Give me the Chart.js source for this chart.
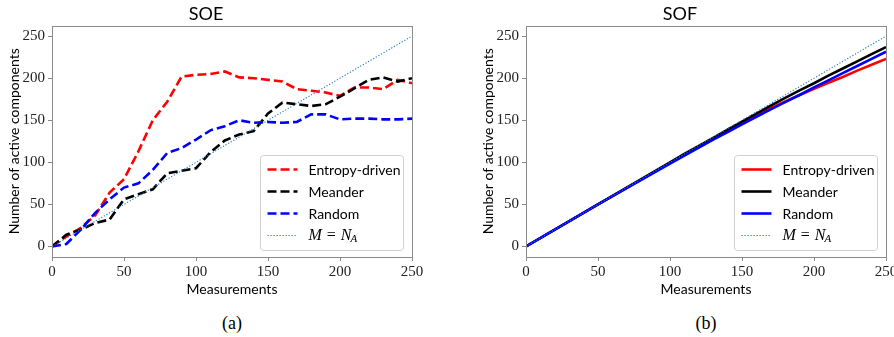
<!DOCTYPE html>
<html>
<head>
<meta charset="utf-8">
<script src="https://cdn.jsdelivr.net/npm/chart.js@4.4.1/dist/chart.umd.min.js"></script>
<style>
  html, body { margin: 0; padding: 0; background: #fff; }
  body { width: 894px; height: 337px; position: relative; overflow: hidden; }
  canvas { position: absolute; top: 0; }
  #soeChart { left: 0; }
  #sofChart { left: 440px; }
  .cap { position: absolute; top: 313px; width: 60px; text-align: center; font: 18px "Liberation Serif", serif; color: #000; }
</style>
</head>
<body>
<canvas id="soeChart" width="440" height="300"></canvas>
<canvas id="sofChart" width="480" height="300"></canvas>
<div class="cap" style="left:202px">(a)</div>
<div class="cap" style="left:676px">(b)</div>

<script>
/* ---- data ---- */
const seriesLabels = ['Entropy-driven', 'Meander', 'Random', 'M = N_A'];
const xTicks = [0, 50, 100, 150, 200, 250];
const yTicks = [0, 50, 100, 150, 200, 250];

// SOE: every 10 measurements
const soeMeasurements = [0, 10, 20, 30, 40, 50, 60, 70, 80, 90, 100, 110, 120, 130, 140, 150, 160, 170, 180, 190, 200, 210, 220, 230, 240, 250];
const soeEntropy = [0, 12, 22, 37, 64, 80, 113, 150, 172, 202, 204, 205, 208, 201, 200, 198, 196, 187, 185, 183, 179, 189, 189, 187, 198, 194];
const soeMeander = [0, 14, 20, 28, 32, 56, 62, 68, 87, 90, 93, 112, 126, 133, 137, 158, 171, 169, 167, 169, 178, 188, 198, 201, 196, 200];
const soeRandom = [0, 3, 20, 40, 56, 70, 75, 91, 111, 117, 127, 138, 143, 150, 147, 148, 147, 148, 157, 157, 151, 152, 152, 151, 151, 152];

// SOF: curves only part from the diagonal after ~100
const sofMeasurements = [0, 50, 100, 110, 120, 130, 140, 150, 160, 170, 180, 190, 200, 210, 220, 230, 240, 250];
const sofEntropy = [0, 50, 99.5, 109, 118.5, 128, 137.5, 147, 156, 164.5, 172.5, 180, 187.5, 194.5, 201.5, 209, 216, 223];
const sofMeander = [0, 50, 100, 110, 119.5, 129, 139, 148.5, 158, 167.5, 176.5, 185.5, 194, 203, 211.5, 220, 228.5, 237];
const sofRandom = [0, 50, 98.5, 108, 117.5, 127, 136, 145, 154, 163, 171.5, 180, 189, 197.5, 206, 214.5, 223, 231.5];

// reference line M = N_A
const refX = [0, 250];
const refY = [0, 250];

const SANS = 'Lato, "DejaVu Sans", sans-serif';
const SERIF = '"Liberation Serif", "DejaVu Serif", serif';
const SPINE = '#8a8a8a';

const toXY = (xs, ys) => xs.map((x, i) => ({ x, y: ys[i] }));

/* ---- spines on all four sides ---- */
const framePlugin = {
  id: 'frame',
  afterDatasetsDraw(chart) {
    const { ctx, chartArea: a } = chart;
    ctx.save();
    ctx.strokeStyle = SPINE;
    ctx.lineWidth = 1;
    ctx.strokeRect(Math.round(a.left) + 0.5, Math.round(a.top) + 0.5, Math.round(a.width), Math.round(a.height));
    ctx.restore();
  },
};

/* ---- matplotlib-style legend box in lower right ---- */
const boxLegend = {
  id: 'boxLegend',
  afterDraw(chart) {
    const { ctx, chartArea: a } = chart;
    const w = 143, h = 95;
    const x0 = Math.round(a.right - 9 - w) + 0.5;
    const y0 = Math.round(a.bottom - 7 - h) + 0.5;
    ctx.save();
    ctx.beginPath();
    ctx.roundRect(x0, y0, w, h, 3);
    ctx.fillStyle = 'rgba(255,255,255,0.8)';
    ctx.fill();
    ctx.strokeStyle = '#d0d0d0';
    ctx.lineWidth = 1;
    ctx.stroke();

    chart.data.datasets.forEach((ds, i) => {
      const y = y0 + 14 + i * 22;
      ctx.beginPath();
      ctx.setLineDash(ds.borderDash || []);
      ctx.strokeStyle = ds.borderColor;
      ctx.lineWidth = ds.borderWidth;
      ctx.moveTo(x0 + 7, y);
      ctx.lineTo(x0 + 37, y);
      ctx.stroke();
      ctx.setLineDash([]);

      ctx.fillStyle = '#000';
      ctx.textBaseline = 'middle';
      ctx.textAlign = 'left';
      const tx = x0 + 48;
      if (ds.label.includes('_')) {
        // math label: M = N_A
        const [lhs, sub] = ds.label.split('_');
        const parts = lhs.split(' '); // ['M', '=', 'N']
        let cx = tx;
        ctx.font = 'italic 16px ' + SERIF;
        ctx.fillText(parts[0], cx, y);
        cx += ctx.measureText(parts[0]).width + 5;
        ctx.font = '16px ' + SERIF;
        ctx.fillText(parts[1], cx, y);
        cx += ctx.measureText(parts[1]).width + 5;
        ctx.font = 'italic 16px ' + SERIF;
        ctx.fillText(parts[2], cx, y);
        cx += ctx.measureText(parts[2]).width;
        ctx.font = 'italic 11px ' + SERIF;
        ctx.fillText(sub, cx - 1, y + 4);
      } else {
        ctx.font = '14px ' + SANS;
        ctx.fillText(ds.label, tx, y + 1);
      }
    });
    ctx.restore();
  },
};

function makeChart(canvasId, title, xs, ent, mea, rnd, dashed, pad) {
  const dash = dashed ? [9, 4] : [];
  const lw = 2.6;
  const datasets = [
    { label: seriesLabels[0], data: toXY(xs, ent), borderColor: '#ff0000', borderWidth: lw, borderDash: dash, order: 3 },
    { label: seriesLabels[1], data: toXY(xs, mea), borderColor: '#000000', borderWidth: lw, borderDash: dash, order: 2 },
    { label: seriesLabels[2], data: toXY(xs, rnd), borderColor: '#0000ff', borderWidth: lw, borderDash: dash, order: 1 },
    { label: seriesLabels[3], data: toXY(refX, refY), borderColor: '#1f77b4', borderWidth: 1.1, borderDash: [1.2, 1.8], order: 0 },
  ];
  return new Chart(document.getElementById(canvasId), {
    type: 'line',
    data: { datasets },
    options: {
      responsive: false,
      animation: false,
      layout: { padding: pad },
      elements: { point: { radius: 0 }, line: { tension: 0, fill: false } },
      plugins: {
        legend: { display: false },
        tooltip: { enabled: false },
        title: {
          display: true, text: title, color: '#000',
          font: { family: SANS, size: 18, weight: 'normal' },
          padding: { top: 3, bottom: 1 },
        },
      },
      scales: {
        x: {
          type: 'linear', min: 0, max: 250,
          afterBuildTicks: (s) => { s.ticks = xTicks.map((v) => ({ value: v })); },
          afterFit: (s) => { s.height = 43; },
          border: { display: false },
          grid: { drawOnChartArea: false, drawTicks: true, tickLength: 4, color: SPINE },
          ticks: { color: '#222', padding: 2, maxRotation: 0, font: { family: SERIF, size: 15 } },
          title: { display: true, text: 'Measurements', color: '#000', font: { family: SANS, size: 14 }, padding: { top: 0, bottom: 2 } },
        },
        y: {
          type: 'linear', min: -12.5, max: 262.5,
          afterBuildTicks: (s) => { s.ticks = yTicks.map((v) => ({ value: v })); },
          afterFit: (s) => { s.width = 52; },
          border: { display: false },
          grid: { drawOnChartArea: false, drawTicks: true, tickLength: 4, color: SPINE },
          ticks: { color: '#222', padding: 3, font: { family: SERIF, size: 15 } },
          title: { display: true, text: 'Number of active components', color: '#000', font: { family: SANS, size: 14 }, padding: { top: 6, bottom: 0 } },
        },
      },
    },
    plugins: [framePlugin, boxLegend],
  });
}

makeChart('soeChart', 'SOE', soeMeasurements, soeEntropy, soeMeander, soeRandom, true, { left: 0, right: 28, top: 0, bottom: 0 });
makeChart('sofChart', 'SOF', sofMeasurements, sofEntropy, sofMeander, sofRandom, false, { left: 34, right: 34, top: 0, bottom: 0 });
</script>
</body>
</html>
